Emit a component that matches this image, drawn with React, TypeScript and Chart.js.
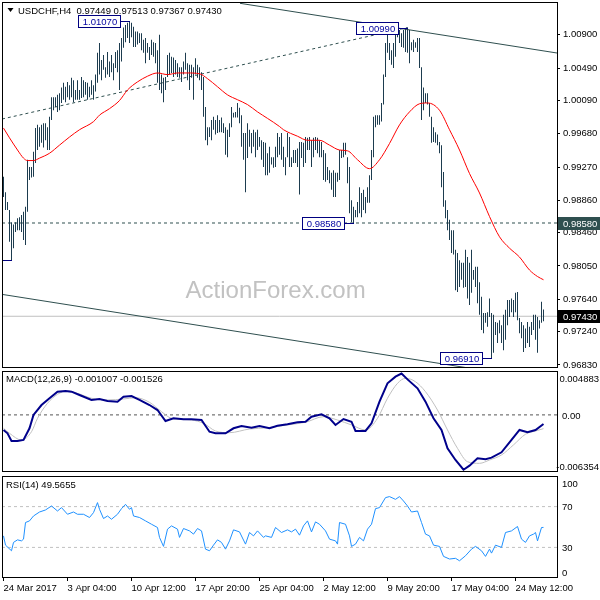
import React, { useEffect, useRef } from "react";
import { Chart, registerables } from "chart.js";

Chart.register(...registerables);

// ---------------- data ----------------
const symbolName = "USDCHF,H4";
const lastOHLC = [0.97449, 0.97513, 0.97367, 0.9743];

const highs = [
  0.9915, 0.9896, 0.9884, 0.9874, 0.9859, 0.9856, 0.9859, 0.9864, 0.9865, 0.9868,
  0.9872, 0.9878, 0.9936, 0.9927, 0.9927, 0.9946, 0.9975, 0.9979, 0.9976, 0.9979,
  0.9981, 0.9981, 0.9976, 0.9989, 1.0013, 1.0013, 1.0013, 1.0016, 1.0018, 1.0025,
  1.0031, 1.0026, 1.0032, 1.0028, 1.0037, 1.0034, 1.0022, 1.0034, 1.0022, 1.0038,
  1.0034, 1.0032, 1.0031, 1.0026, 1.0034, 1.0028, 1.0041, 1.0068, 1.008, 1.0059,
  1.0065, 1.005, 1.0069, 1.0057, 1.0065, 1.0055, 1.0069, 1.0071, 1.008, 1.0086,
  1.0099, 1.0102, 1.0105, 1.0107, 1.0105, 1.01, 1.0094, 1.0094, 1.0092, 1.0092,
  1.0084, 1.0086, 1.008, 1.0075, 1.0084, 1.0081, 1.008, 1.0071, 1.009, 1.0041,
  1.0037, 1.0038, 1.0065, 1.0068, 1.0063, 1.0062, 1.0059, 1.0055, 1.005, 1.005,
  1.0057, 1.0068, 1.0055, 1.0053, 1.0053, 1.005, 1.0061, 1.0053, 1.005, 1.0044,
  1.0038, 1.0001, 0.9976, 0.9976, 0.9985, 0.9989, 0.9985, 0.9991, 0.9985, 0.9988,
  0.9981, 0.9976, 0.9973, 0.9981, 1.0001, 0.9994, 0.9995, 1.0006, 1.0, 0.9991,
  0.9969, 0.9969, 0.9981, 0.9973, 0.9969, 0.9973, 0.997, 0.9973, 0.9964, 0.996,
  0.9958, 0.9957, 0.9944, 0.9952, 0.9939, 0.9939, 0.9952, 0.9969, 0.9964, 0.9969,
  0.9952, 0.9939, 0.9969, 0.9964, 0.9939, 0.9948, 0.9948, 0.995, 0.9958, 0.9958,
  0.9957, 0.9964, 0.9963, 0.9964, 0.996, 0.9963, 0.9964, 0.9963, 0.996, 0.9958,
  0.9948, 0.9944, 0.9927, 0.9923, 0.992, 0.9923, 0.992, 0.992, 0.9948, 0.9948,
  0.9957, 0.9957, 0.9939, 0.9927, 0.9886, 0.9878, 0.9874, 0.9884, 0.9902, 0.9895,
  0.9899, 0.989, 0.9902, 0.9917, 0.9948, 0.9989, 0.9991, 0.9991, 0.9991, 1.0006,
  1.0041, 1.008, 1.0092, 1.008, 1.0071, 1.008, 1.0096, 1.0098, 1.0096, 1.0092,
  1.0096, 1.0098, 1.0099, 1.0096, 1.0081, 1.0084, 1.0081, 1.0086, 1.0086, 1.005,
  1.0025, 1.0018, 1.0018, 1.0006, 0.9989, 0.9976, 0.997, 0.9967, 0.9958, 0.9954,
  0.9921, 0.9886, 0.9874, 0.9862, 0.9849, 0.9849, 0.9825, 0.9821, 0.9812, 0.9809,
  0.9809, 0.9825, 0.9816, 0.9809, 0.9825, 0.98, 0.9804, 0.9804, 0.9785, 0.9767,
  0.9747, 0.9747, 0.9748, 0.9765, 0.9747, 0.9745, 0.9736, 0.9735, 0.9738, 0.9732,
  0.9745, 0.9751, 0.9763, 0.9763, 0.9765, 0.9763, 0.9772, 0.9773, 0.9741, 0.9736,
  0.9732, 0.9728, 0.9736, 0.973, 0.9736, 0.9745, 0.9745, 0.9742, 0.9738, 0.9761,
  0.97513,
];

const lows = [
  0.989, 0.9874, 0.9874, 0.9835, 0.9812, 0.9827, 0.9847, 0.9849, 0.9849, 0.9847,
  0.9837, 0.9831, 0.9872, 0.9911, 0.9914, 0.9915, 0.9932, 0.9948, 0.9952, 0.9957,
  0.9951, 0.996, 0.9948, 0.9948, 0.9985, 0.9997, 1.0001, 0.9995, 0.9997, 1.0006,
  1.001, 1.0007, 1.0013, 1.001, 1.0013, 1.0007, 1.001, 1.001, 1.001, 1.0012,
  1.0013, 1.0016, 1.001, 1.0013, 1.0016, 1.001, 1.002, 1.0031, 1.0041, 1.0034,
  1.0047, 1.0037, 1.0041, 1.0038, 1.0044, 1.0034, 1.0049, 1.0044, 1.0022, 1.0057,
  1.0074, 1.0081, 1.0086, 1.008, 1.0087, 1.0075, 1.0075, 1.0078, 1.008, 1.0071,
  1.0068, 1.0055, 1.0068, 1.0059, 1.0065, 1.0063, 1.0055, 1.0031, 1.0022, 1.0018,
  1.0007, 1.0022, 1.0038, 1.0041, 1.0043, 1.0038, 1.0041, 1.0038, 1.0037, 1.0032,
  1.0041, 1.0047, 1.0034, 1.0022, 1.0037, 1.001, 1.0041, 1.0037, 1.0034, 1.0022,
  0.9989, 0.996, 0.9954, 0.9964, 0.996, 0.9973, 0.9967, 0.9969, 0.997, 0.997,
  0.9969, 0.9942, 0.9939, 0.9964, 0.9976, 0.9988, 0.9988, 0.9988, 0.9981, 0.9952,
  0.9936, 0.9896, 0.9938, 0.9952, 0.9944, 0.9952, 0.9939, 0.9948, 0.9952, 0.9936,
  0.9927, 0.9917, 0.9917, 0.992, 0.993, 0.9926, 0.9927, 0.9939, 0.9942, 0.9936,
  0.9927, 0.9917, 0.9939, 0.9927, 0.9927, 0.9932, 0.9932, 0.9927, 0.9893, 0.9938,
  0.9927, 0.9932, 0.9948, 0.9948, 0.9927, 0.9939, 0.9948, 0.9944, 0.9939, 0.9939,
  0.9911, 0.9909, 0.9911, 0.9907, 0.9899, 0.989, 0.989, 0.9909, 0.9911, 0.9938,
  0.9939, 0.9942, 0.9907, 0.987, 0.9859, 0.9858, 0.9865, 0.9865, 0.987, 0.9865,
  0.9874, 0.987, 0.9883, 0.9883, 0.9911, 0.9939, 0.9976, 0.9979, 0.9979, 0.9983,
  1.0004, 1.0038, 1.0068, 1.0059, 1.0053, 1.0049, 1.0063, 1.0087, 1.008, 1.0075,
  1.0074, 1.0069, 1.0068, 1.0055, 1.0071, 1.0069, 1.0074, 1.0069, 1.0049, 0.9985,
  0.9997, 1.0006, 1.0004, 0.9989, 0.9957, 0.9958, 0.9957, 0.9954, 0.9944, 0.9902,
  0.9878, 0.9864, 0.9849, 0.9837, 0.9821, 0.9819, 0.9775, 0.9773, 0.9779, 0.9788,
  0.9778, 0.9779, 0.9765, 0.9757, 0.9772, 0.9788, 0.9779, 0.9759, 0.9745, 0.9726,
  0.9722, 0.9735, 0.973, 0.9742, 0.9691, 0.9698, 0.972, 0.971, 0.9722, 0.971,
  0.9701, 0.9714, 0.9732, 0.9742, 0.9748, 0.9742, 0.9748, 0.9738, 0.9722, 0.9716,
  0.9699, 0.9704, 0.971, 0.9705, 0.972, 0.9726, 0.9714, 0.9698, 0.9728, 0.9735,
  0.97367,
];

const maIndex = [
  0, 3, 7, 10, 12, 15, 18, 23, 28, 33, 38, 45, 48, 53, 58, 62, 67, 72, 77, 82,
  87, 92, 98, 102, 107, 112, 117, 122, 127, 132, 138, 140, 147, 152, 158, 163, 168, 172, 177, 183,
  188, 193, 198, 203, 208, 212, 218, 223, 228, 233, 238, 243, 248, 253, 258, 263, 267, 270,
];
const maValue = [
  0.9975, 0.9963, 0.9948, 0.9938, 0.9935, 0.9935, 0.9938, 0.9944, 0.9954, 0.9964,
  0.9973, 0.9983, 0.9991, 0.9999, 1.0009, 1.0022, 1.0032, 1.0039, 1.0043, 1.0041,
  1.0043, 1.0043, 1.0042, 1.0036, 1.0026, 1.0016, 1.001, 1.0004, 0.9995, 0.9987,
  0.9977, 0.9973, 0.9965, 0.996, 0.996, 0.9954, 0.9948, 0.9947, 0.9936, 0.9925,
  0.9936, 0.9956, 0.9979, 0.9995, 1.0005, 1.0006, 0.9997, 0.9973, 0.9948, 0.9919,
  0.9895, 0.9866, 0.9841, 0.9827, 0.9816, 0.98, 0.9792, 0.9788,
];

const priceTicks = [1.009, 1.0049, 1.0009, 0.9968, 0.9927, 0.9886, 0.9846, 0.9805, 0.9764, 0.9724, 0.9683];
const priceMin = 0.96792;
const priceMax = 1.01305;

const supportLevel = 0.9858;
const currentPrice = 0.9743;

const calloutIndex = [4, 63, 202, 175, 244];
const calloutPrice = [0.9812, 1.0107, 1.0099, 0.9858, 0.9691];

const upperLineIndex = [118.25, 276.75];
const upperLinePrice = [1.01289, 1.00676];
const lowerLineIndex = [-0.75, 276.75];
const lowerLinePrice = [0.977, 0.9662];
const risingLineIndex = [-0.75, 202];
const risingLinePrice = [0.99862, 1.0099];

const macdLast = [-0.001007, -0.001526];
const macdIndex = [
  0, 2, 4, 7, 10, 13, 15, 19, 23, 27, 31, 34, 38, 44, 48, 52, 57, 60, 64, 68,
  73, 77, 81, 85, 90, 94, 99, 103, 106, 111, 115, 119, 124, 128, 133, 137, 142, 147, 151, 154,
  159, 163, 166, 170, 174, 176, 181, 184, 188, 192, 196, 199, 202, 207, 211, 215, 219, 222, 226, 230,
  233, 237, 241, 244, 249, 254, 258, 262, 266, 270,
];
const macdValue = [
  -0.00168, -0.00205, -0.0029, -0.0029, -0.00279, -0.00149, 0.0, 0.0011, 0.00185, 0.00258,
  0.00266, 0.00258, 0.00221, 0.00166, 0.00177, 0.00155, 0.00147, 0.00202, 0.0021, 0.00166,
  0.0011, 0.00054, -0.00068, -0.00038, -0.00049, -0.00049, -0.00057, -0.00187, -0.00205, -0.00205,
  -0.00149, -0.00124, -0.00143, -0.00124, -0.00149, -0.0012, -0.00105, -0.00082, -0.00076, -0.0002,
  0.00006, -0.00038, -0.00112, -0.00046, -0.00076, -0.00179, -0.00179, -0.00094, 0.00147, 0.00351,
  0.00425, 0.0046, 0.00395, 0.00296, 0.00147, -0.00038, -0.00168, -0.00372, -0.00502, -0.0061,
  -0.00565, -0.00483, -0.00494, -0.00476, -0.00416, -0.00279, -0.00168, -0.00194, -0.00168, -0.00101,
];
const signalIndex = [
  0, 3, 9, 14, 17, 22, 27, 32, 37, 44, 52, 60, 66, 73, 79, 84, 94, 100, 106, 113,
  123, 132, 142, 151, 160, 167, 174, 181, 187, 192, 197, 201, 206, 211, 217, 222, 227, 232, 238, 243,
  249, 255, 261, 266, 270,
];
const signalValue = [
  -0.00149, -0.00205, -0.00279, -0.00187, -0.00038, 0.00129, 0.00229, 0.00266, 0.0024, 0.00185,
  0.00166, 0.00177, 0.00191, 0.0014, 0.00036, -0.00038, -0.00057, -0.00094, -0.00179, -0.00198,
  -0.00157, -0.00143, -0.00112, -0.00082, -0.0002, -0.00057, -0.00112, -0.00168, -0.00038, 0.00185,
  0.00351, 0.00407, 0.00369, 0.00258, 0.00054, -0.00168, -0.00372, -0.00521, -0.00539, -0.00502,
  -0.00446, -0.00334, -0.00215, -0.00179, -0.00153,
];
const macdMax = 0.004883;
const macdMin = -0.006354;
const macdAxisValues = [0.004883, 0, -0.006354];
const macdAxisLabels = ["0.004883", "0.00", "-0.006354"];

const rsiLast = 49.5655;
const rsiIndex = [
  0, 1, 4, 5, 7, 9, 10, 11, 13, 15, 18, 21, 24, 27, 29, 32, 35, 37, 40, 43,
  45, 47, 48, 50, 52, 54, 57, 59, 61, 63, 64, 65, 68, 71, 74, 77, 78, 80, 82, 84,
  87, 88, 90, 93, 95, 97, 99, 101, 103, 105, 107, 109, 111, 113, 115, 118, 121, 123, 125, 127,
  130, 131, 134, 136, 139, 142, 144, 146, 148, 150, 152, 154, 156, 158, 161, 163, 166, 167, 168, 171,
  173, 174, 176, 178, 180, 182, 184, 186, 188, 191, 193, 196, 198, 200, 202, 204, 207, 209, 211, 213,
  215, 218, 220, 223, 226, 228, 231, 234, 236, 239, 241, 243, 244, 246, 249, 251, 254, 257, 259, 261,
  263, 265, 266, 267, 269, 270,
];
const rsiValue = [
  41.3, 32.2, 26.7, 34.9, 37.4, 36.4, 38.1, 54.4, 56, 60.8,
  64.7, 66.7, 70.6, 65.7, 69, 62.5, 64.7, 62.5, 62.5, 59.3,
  64.1, 73.9, 67.4, 58.3, 60.8, 57.6, 62.5, 68, 72.2, 67.4,
  69, 60.8, 59.3, 56, 52.7, 49.5, 39.8, 31, 47.9, 51.1,
  47.9, 39.8, 48.5, 46.2, 43, 48.5, 46.2, 28.3, 26.7, 32.2,
  37.4, 34.9, 28.3, 36.4, 47.2, 45.2, 33.2, 44.6, 41.3, 46.2,
  39.8, 41.3, 39.8, 49.5, 44.6, 47.2, 45.2, 47.9, 42, 51.1,
  56, 45.2, 55, 52.7, 46.2, 38.1, 36.4, 33.2, 54.4, 52.7,
  41.3, 31, 33.2, 39.8, 36.4, 47.9, 52.7, 68, 69, 78.8,
  79.8, 77.1, 79.8, 75.5, 70.6, 64.7, 65.7, 54.4, 43, 41.3,
  32.2, 31, 21.2, 18.6, 19.3, 16.9, 21.8, 28.3, 31, 26.7,
  21.2, 28.3, 24.4, 32.2, 30, 44.6, 46.2, 50.5, 38.1, 34.9,
  41.3, 43, 44.6, 36.4, 49.5, 49.6,
];
const rsiLevels = [70, 30];
const rsiAxisValues = [100, 70, 30, 0];
const rsiAxisLabels = ["100", "70", "30", "0"];

const timeTickIndex = [0, 32, 64, 96, 128, 160, 192, 224, 256];
const timeLabels = [
  "24 Mar 2017", "3 Apr 04:00", "10 Apr 12:00", "17 Apr 20:00", "25 Apr 04:00",
  "2 May 12:00", "9 May 20:00", "17 May 04:00", "24 May 12:00",
];

// ---------------- styling ----------------
const FAMILY = "'Liberation Sans', Arial, sans-serif";
const FONT_CSS = "9.5px " + FAMILY;
const X_MIN = -0.75;
const X_MAX = 276.75;
const BAR_COLOR = "#1d3c4f";
const SLATE = "#2f4f4f";

Chart.defaults.font.family = FAMILY;
Chart.defaults.font.size = 9.5;
Chart.defaults.color = "#000";

const pts = (xs: number[], ys: number[]) => xs.map((x, k) => ({ x, y: ys[k] }));

const lineDs = (data: any[], color: string, width: number, order: number, dash: number[] = [], extra: any = {}) => ({
  type: "line",
  data,
  borderColor: color,
  borderWidth: width,
  borderDash: dash,
  pointRadius: 0,
  fill: false,
  tension: 0,
  order,
  ...extra,
});

const hLine = (level: number) => [
  { x: X_MIN, y: level },
  { x: X_MAX, y: level },
];

const hiddenX = { type: "linear", min: X_MIN, max: X_MAX, display: false, offset: false };

const rightAxisFit = (s: any) => {
  s.width = 43;
  s.paddingTop = 0;
  s.paddingBottom = 0;
};

function drawFrame(ctx: CanvasRenderingContext2D, a: any) {
  ctx.save();
  ctx.strokeStyle = "#000";
  ctx.lineWidth = 1;
  ctx.strokeRect(Math.round(a.left) + 0.5, Math.round(a.top) + 0.5, Math.round(a.right - a.left), Math.round(a.bottom - a.top) - 1);
  ctx.restore();
}

const baseOptions = {
  responsive: false,
  animation: false,
  devicePixelRatio: 1,
  events: [],
  plugins: { legend: { display: false }, tooltip: { enabled: false } },
};

// ---------------- main panel ----------------
const mainDecor = {
  id: "mainDecor",
  beforeDatasetsDraw(chart: any) {
    const { ctx, chartArea: a } = chart;
    ctx.save();
    ctx.font = "24px " + FAMILY;
    ctx.fillStyle = "#c2c2c2";
    ctx.textAlign = "center";
    ctx.textBaseline = "middle";
    ctx.fillText("ActionForex.com", a.left + (a.right - a.left) * 0.493, 291);
    ctx.restore();
  },
  afterDatasetsDraw(chart: any) {
    const { ctx, chartArea: a, scales } = chart;
    ctx.save();
    ctx.beginPath();
    ctx.rect(a.left, a.top, a.right - a.left, a.bottom - a.top);
    ctx.clip();
    ctx.font = FONT_CSS;
    ctx.textBaseline = "middle";
    ctx.textAlign = "center";
    calloutIndex.forEach((idx, k) => {
      const px = Math.floor(scales.x.getPixelForValue(idx));
      const py = Math.round(scales.y.getPixelForValue(calloutPrice[k]));
      const bw = 42;
      const bh = 12;
      const bx = px - 9 - bw;
      const by = py - 6;
      ctx.fillStyle = "#fff";
      ctx.fillRect(bx, by, bw, bh);
      ctx.strokeStyle = "#000080";
      ctx.lineWidth = 1;
      ctx.strokeRect(bx + 0.5, by + 0.5, bw, bh);
      ctx.beginPath();
      ctx.moveTo(bx + bw + 0.5, py + 0.5);
      ctx.lineTo(px + 1, py + 0.5);
      ctx.stroke();
      ctx.fillStyle = "#0000a0";
      ctx.fillText(calloutPrice[k].toFixed(5), bx + bw / 2 + 1, py + 1);
    });
    ctx.restore();
  },
  afterDraw(chart: any) {
    const { ctx, chartArea: a, scales } = chart;
    drawFrame(ctx, a);
    ctx.save();
    // title
    ctx.fillStyle = "#000";
    ctx.beginPath();
    ctx.moveTo(7.5, 8);
    ctx.lineTo(13.5, 8);
    ctx.lineTo(10.5, 12);
    ctx.closePath();
    ctx.fill();
    ctx.font = FONT_CSS;
    ctx.textAlign = "left";
    ctx.textBaseline = "middle";
    ctx.fillText(symbolName + "  " + lastOHLC.map((v) => v.toFixed(5)).join(" "), 18, 11);
    // highlighted price labels on right axis
    const marks = [
      { v: supportLevel, bg: SLATE },
      { v: currentPrice, bg: "#000" },
    ];
    marks.forEach((m) => {
      const py = Math.round(scales.y.getPixelForValue(m.v));
      ctx.fillStyle = m.bg;
      ctx.fillRect(a.right + 1, py - 6, 600 - a.right - 1, 13);
      ctx.fillStyle = "#fff";
      ctx.fillText(m.v.toFixed(5), a.right + 6, py + 1);
    });
    ctx.restore();
  },
};

function mainConfig(): any {
  return {
    type: "bar",
    data: {
      datasets: [
        lineDs(hLine(currentPrice), "#c0c0c0", 1, 6),
        lineDs(hLine(supportLevel), SLATE, 1, 5, [3, 3]),
        lineDs(pts(upperLineIndex, upperLinePrice), SLATE, 1, 4),
        lineDs(pts(lowerLineIndex, lowerLinePrice), SLATE, 1, 4),
        lineDs(pts(risingLineIndex, risingLinePrice), SLATE, 1, 4, [3, 3]),
        {
          type: "bar",
          data: highs.map((h, i) => ({ x: i, y: [lows[i], h] })),
          backgroundColor: BAR_COLOR,
          borderWidth: 0,
          barThickness: 1,
          inflateAmount: 0,
          grouped: false,
          order: 1,
        },
        lineDs(pts(maIndex, maValue), "#ff0000", 1, 0, [], { cubicInterpolationMode: "monotone" }),
      ],
    },
    options: {
      ...baseOptions,
      layout: { padding: { left: 2, top: 2, bottom: 2, right: 0 } },
      scales: {
        x: hiddenX,
        y: {
          position: "right",
          min: priceMin,
          max: priceMax,
          afterFit: rightAxisFit,
          afterBuildTicks: (s: any) => {
            s.ticks = priceTicks.map((v) => ({ value: v }));
          },
          border: { display: false },
          grid: { drawOnChartArea: false, drawTicks: true, tickLength: 3, color: "#000" },
          ticks: { autoSkip: false, padding: 3, color: "#000", callback: (v: any) => Number(v).toFixed(5) },
        },
      },
    },
    plugins: [mainDecor],
  };
}

// ---------------- indicator panels ----------------
const panelDecor = (id: string, title: string, values: number[], texts: string[], titleDy: number) => ({
  id,
  afterDraw(chart: any) {
    const { ctx, chartArea: a, scales } = chart;
    drawFrame(ctx, a);
    ctx.save();
    ctx.font = FONT_CSS;
    ctx.fillStyle = "#000";
    ctx.textAlign = "left";
    ctx.textBaseline = "middle";
    ctx.fillText(title, a.left + 4, a.top + titleDy);
    values.forEach((v, k) => {
      let py = scales.y.getPixelForValue(v);
      py = Math.min(Math.max(py, a.top + 7), a.bottom - 6);
      const w = ctx.measureText(texts[k]).width;
      const tx = Math.min(a.right + 5, chart.width - 1 - w);
      ctx.fillText(texts[k], tx, py + 1);
    });
    ctx.restore();
  },
});

const hiddenRightY = (min: number, max: number) => ({
  position: "right",
  min,
  max,
  afterFit: rightAxisFit,
  border: { display: false },
  grid: { display: false },
  ticks: { display: false },
});

function macdConfig(): any {
  return {
    type: "line",
    data: {
      datasets: [
        lineDs(hLine(0), "#555555", 1, 3, [3, 3]),
        lineDs(pts(signalIndex, signalValue), "#c0c0c0", 1, 2, [], { cubicInterpolationMode: "monotone" }),
        lineDs(pts(macdIndex, macdValue), "#00008b", 2, 1),
      ],
    },
    options: {
      ...baseOptions,
      layout: { padding: { left: 2, top: 1, bottom: 2, right: 0 } },
      scales: { x: hiddenX, y: hiddenRightY(macdMin, macdMax) },
    },
    plugins: [
      panelDecor(
        "macdDecor",
        "MACD(12,26,9) " + macdLast.map((v) => v.toFixed(6)).join(" "),
        macdAxisValues,
        macdAxisLabels,
        8
      ),
    ],
  };
}

function rsiConfig(): any {
  return {
    type: "line",
    data: {
      datasets: [
        ...rsiLevels.map((lv) => lineDs(hLine(lv), "#c0c0c0", 1, 3, [3, 3])),
        lineDs(pts(rsiIndex, rsiValue), "#1e90ff", 1, 1),
      ],
    },
    options: {
      ...baseOptions,
      layout: { padding: { left: 2, top: 2, bottom: 0, right: 0 } },
      scales: {
        x: {
          type: "linear",
          min: X_MIN,
          max: X_MAX,
          offset: false,
          afterBuildTicks: (s: any) => {
            s.ticks = timeTickIndex.map((v) => ({ value: v }));
          },
          afterFit: (s: any) => {
            s.height = 22;
            s.paddingLeft = 0;
            s.paddingRight = 0;
          },
          border: { display: false },
          grid: { drawOnChartArea: false, drawTicks: true, tickLength: 3, color: "#000" },
          ticks: {
            autoSkip: false,
            maxRotation: 0,
            minRotation: 0,
            align: "start",
            padding: 2,
            color: "#000",
            callback: (_v: any, i: number) => timeLabels[i],
          },
        },
        y: hiddenRightY(0, 100),
      },
    },
    plugins: [panelDecor("rsiDecor", "RSI(14) " + rsiLast.toFixed(4), rsiAxisValues, rsiAxisLabels, 9)],
  };
}

export default function App() {
  const mainRef = useRef<HTMLCanvasElement>(null);
  const macdRef = useRef<HTMLCanvasElement>(null);
  const rsiRef = useRef<HTMLCanvasElement>(null);

  useEffect(() => {
    const charts: Chart[] = [];
    if (mainRef.current) charts.push(new Chart(mainRef.current, mainConfig()));
    if (macdRef.current) charts.push(new Chart(macdRef.current, macdConfig()));
    if (rsiRef.current) charts.push(new Chart(rsiRef.current, rsiConfig()));
    return () => charts.forEach((c) => c.destroy());
  }, []);

  const cs = (top: number): React.CSSProperties => ({ position: "absolute", left: 0, top, display: "block" });

  return (
    <div style={{ position: "absolute", left: 0, top: 0, width: 600, height: 600, background: "#fff", overflow: "hidden" }}>
      <canvas ref={mainRef} width={600} height={370} style={cs(0)} />
      <canvas ref={macdRef} width={600} height={104} style={cs(370)} />
      <canvas ref={rsiRef} width={600} height={126} style={cs(474)} />
    </div>
  );
}
